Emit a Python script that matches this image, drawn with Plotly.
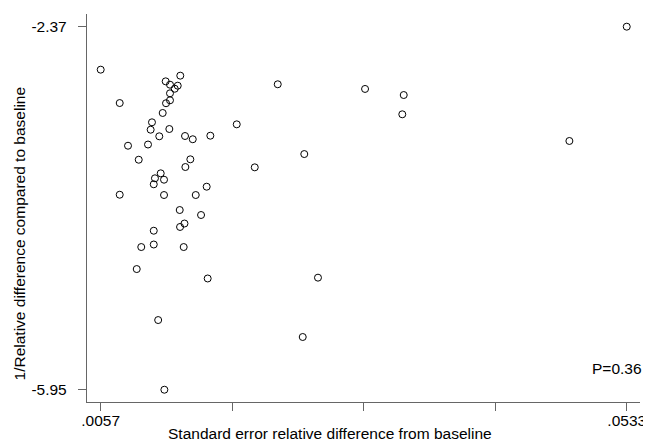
import plotly.graph_objects as go

# Data
se_rel_diff = [
    0.0057, 0.01290, 0.01158, 0.01197, 0.01267, 0.01240, 0.01197, 0.01197, 0.01161, 0.00742,
    0.01131, 0.01034, 0.01022, 0.01191, 0.01100, 0.01333, 0.01403, 0.01562, 0.00817, 0.00998,
    0.00914, 0.01381, 0.01336, 0.01113, 0.01061, 0.01143, 0.01050, 0.01529, 0.00742, 0.01143,
    0.01430, 0.01285, 0.01478, 0.01328, 0.01288, 0.01050, 0.01050, 0.00937, 0.01321, 0.00896,
    0.01538, 0.01090, 0.01146, 0.02172, 0.01801, 0.01964, 0.02412, 0.02962, 0.03312, 0.03299,
    0.02536, 0.02398, 0.0533, 0.04811,
]
inv_rel_diff = [
    -2.794, -2.853, -2.909, -2.942, -2.952, -2.982, -3.027, -3.096, -3.125, -3.123,
    -3.221, -3.313, -3.386, -3.379, -3.451, -3.448, -3.480, -3.445, -3.544, -3.532,
    -3.682, -3.678, -3.754, -3.816, -3.865, -3.879, -3.924, -3.948, -4.027, -4.030,
    -4.030, -4.178, -4.227, -4.311, -4.345, -4.382, -4.518, -4.543, -4.543, -4.760,
    -4.853, -5.263, -5.950, -2.938, -3.333, -3.757, -3.626, -2.984, -3.044, -3.234,
    -4.845, -5.430, -2.370, -3.497,
]
x_tickvals = [0.0057, 0.0176, 0.0295, 0.0414, 0.0533]
x_ticktext = [".0057", "", "", "", ".0533"]
y_tickvals = [-5.95, -2.37]
y_ticktext = ["-5.95", "-2.37"]
x_title = "Standard error relative difference from baseline"
y_title = "1/Relative difference compared to baseline"
p_label = "P=0.36"

FONT = "Liberation Sans, Arial, sans-serif"
FS = 15.5

fig = go.Figure()
fig.add_trace(go.Scatter(
    x=se_rel_diff, y=inv_rel_diff, mode="markers",
    marker=dict(symbol="circle-open", size=7, color="black", line=dict(width=1)),
    showlegend=False, hoverinfo="x+y",
))

axis_common = dict(
    showgrid=False, zeroline=False, showline=True, linecolor="#666666", linewidth=1.3,
    ticks="outside", ticklen=8, tickwidth=1, tickcolor="#666666",
    tickfont=dict(family=FONT, size=FS, color="black"),
)
fig.update_xaxes(range=[0.00446, 0.0545], tickvals=x_tickvals, ticktext=x_ticktext,
                 ticklabelstandoff=-4, **axis_common)
fig.update_yaxes(range=[-6.071, -2.245], tickvals=y_tickvals, ticktext=y_ticktext,
                 ticklabelstandoff=8, **axis_common)

# the page body has an 8px margin, so the figure is sized 8px smaller
fig.update_layout(
    width=643, height=433,
    margin=dict(l=79, r=11, t=6, b=39),
    paper_bgcolor="white", plot_bgcolor="white",
    font=dict(family=FONT, size=FS, color="black"),
    annotations=[
        dict(text=x_title, xref="paper", yref="paper", x=0.4394, y=-0.0799, xanchor="center",
             yanchor="middle", showarrow=False, font=dict(size=FS, family=FONT)),
        dict(text=y_title, xref="paper", yref="paper", x=-0.1212, y=0.4343, xanchor="center",
             yanchor="middle", textangle=-90, showarrow=False,
             font=dict(size=FS, family=FONT)),
        dict(text=p_label, xref="paper", yref="paper", x=0.9122, y=0.0876, xanchor="left",
             yanchor="middle", borderpad=0, showarrow=False, font=dict(size=FS, family=FONT)),
    ],
)

fig.write_html("out.html", config={"displayModeBar": False})
